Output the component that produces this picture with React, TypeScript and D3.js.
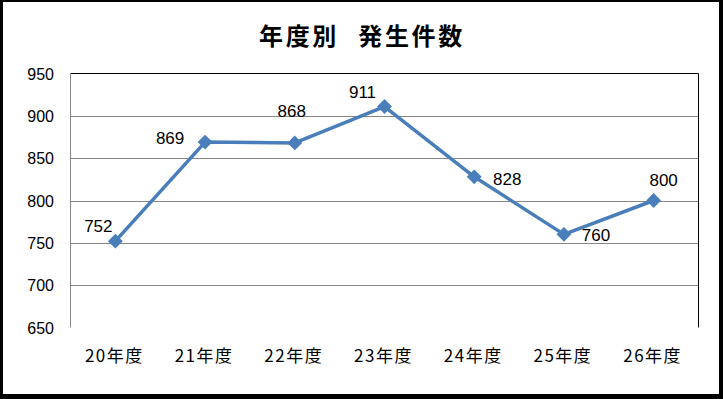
import * as React from "react";
import * as d3 from "d3";

const categories = ["20年度", "21年度", "22年度", "23年度", "24年度", "25年度", "26年度"];
const counts = [752, 869, 868, 911, 828, 760, 800];
const yTicks = [650, 700, 750, 800, 850, 900, 950];
const chartTitle = "年度別 発生件数";

// hand placed data labels (dx, dy from the marker), like the original sheet
const labelOffsets = [
    [-17, -9], [-35, 2], [-3, -26], [-22, -9], [33, 8], [32, 7], [10, -15]
];

class App extends React.Component {
    _root: HTMLDivElement | null = null;

    componentDidMount() {
        document.body.style.margin = "0";
        this.drawChart();
    }

    drawChart() {
        const width = 723;
        const height = 399;
        const plot = {left: 70.5, right: 698.5, top: 73.5, bottom: 327.5};
        const blue = "#4A7EBB";

        const svg = d3.select(this._root)
            .append("svg")
            .attr("width", width)
            .attr("height", height)
            .style("display", "block");

        // frame
        svg.append("rect").attr("width", width).attr("height", height).attr("fill", "#000");
        svg.append("rect")
            .attr("x", 3).attr("y", 2)
            .attr("width", 716).attr("height", 392)
            .attr("fill", "#fff");

        svg.append("text")
            .text(chartTitle)
            .attr("x", 362)
            .attr("y", 45)
            .attr("text-anchor", "middle")
            .style("font-family", "'Noto Sans CJK JP', sans-serif")
            .style("font-weight", "bold")
            .style("font-size", "24px")
            .style("letter-spacing", "2.7px")
            .style("word-spacing", "11px")
            .attr("fill", "#000");

        const xScale = d3.scalePoint()
            .domain(categories)
            .range([plot.left, plot.right])
            .padding(0.5);

        const yScale = d3.scaleLinear()
            .domain([650, 950])
            .range([plot.bottom, plot.top]);

        // gridlines
        svg.append("g")
            .selectAll("line")
            .data(yTicks.filter(t => t > 650 && t < 950))
            .enter()
            .append("line")
            .attr("x1", plot.left).attr("x2", plot.right)
            .attr("y1", d => Math.round(yScale(d)) + 0.5)
            .attr("y2", d => Math.round(yScale(d)) + 0.5)
            .attr("stroke", "#868686");

        // plot border top + right in black, left axis grey
        svg.append("path")
            .attr("d", `M${plot.left},${plot.top}H${plot.right}V${plot.bottom}`)
            .attr("fill", "none")
            .attr("stroke", "#000");
        svg.append("line")
            .attr("x1", plot.left).attr("x2", plot.left)
            .attr("y1", plot.top).attr("y2", plot.bottom)
            .attr("stroke", "#868686");

        svg.append("g")
            .selectAll("text")
            .data(yTicks)
            .enter()
            .append("text")
            .text(d => d)
            .attr("x", 54)
            .attr("y", d => yScale(d) + 6)
            .attr("text-anchor", "end")
            .style("font-family", "'Liberation Sans', Arial, sans-serif")
            .style("font-size", "16px")
            .attr("fill", "#000");

        svg.append("g")
            .selectAll("text")
            .data(categories)
            .enter()
            .append("text")
            .text(d => d)
            .attr("x", d => xScale(d) - 1)
            .attr("y", 362)
            .attr("text-anchor", "middle")
            .style("font-family", "'Noto Sans CJK JP', sans-serif")
            .style("font-size", "17px")
            .style("letter-spacing", "1.5px")
            .attr("fill", "#000");

        const line = d3.line()
            .x((d, i) => xScale(categories[i]))
            .y(d => yScale(d));

        svg.append("path")
            .datum(counts)
            .attr("d", line)
            .attr("fill", "none")
            .attr("stroke", blue)
            .attr("stroke-width", 3.5)
            .attr("stroke-linejoin", "round");

        const diamond = d3.symbol().type(d3.symbolSquare).size(110);
        svg.append("g")
            .selectAll("path")
            .data(counts)
            .enter()
            .append("path")
            .attr("d", diamond)
            .attr("transform", (d, i) => "translate(" + xScale(categories[i]) + "," + yScale(d) + ") rotate(45)")
            .attr("fill", blue);

        svg.append("g")
            .selectAll("text")
            .data(counts)
            .enter()
            .append("text")
            .text(d => d)
            .attr("x", (d, i) => xScale(categories[i]) + labelOffsets[i][0])
            .attr("y", (d, i) => yScale(d) + labelOffsets[i][1])
            .attr("text-anchor", "middle")
            .style("font-family", "'Liberation Sans', Arial, sans-serif")
            .style("font-size", "17px")
            .attr("fill", "#000");
    }

    shouldComponentUpdate() {
        return false;
    }

    render() {
        return <div ref={el => { this._root = el; }}/>;
    }
}

export default App;
